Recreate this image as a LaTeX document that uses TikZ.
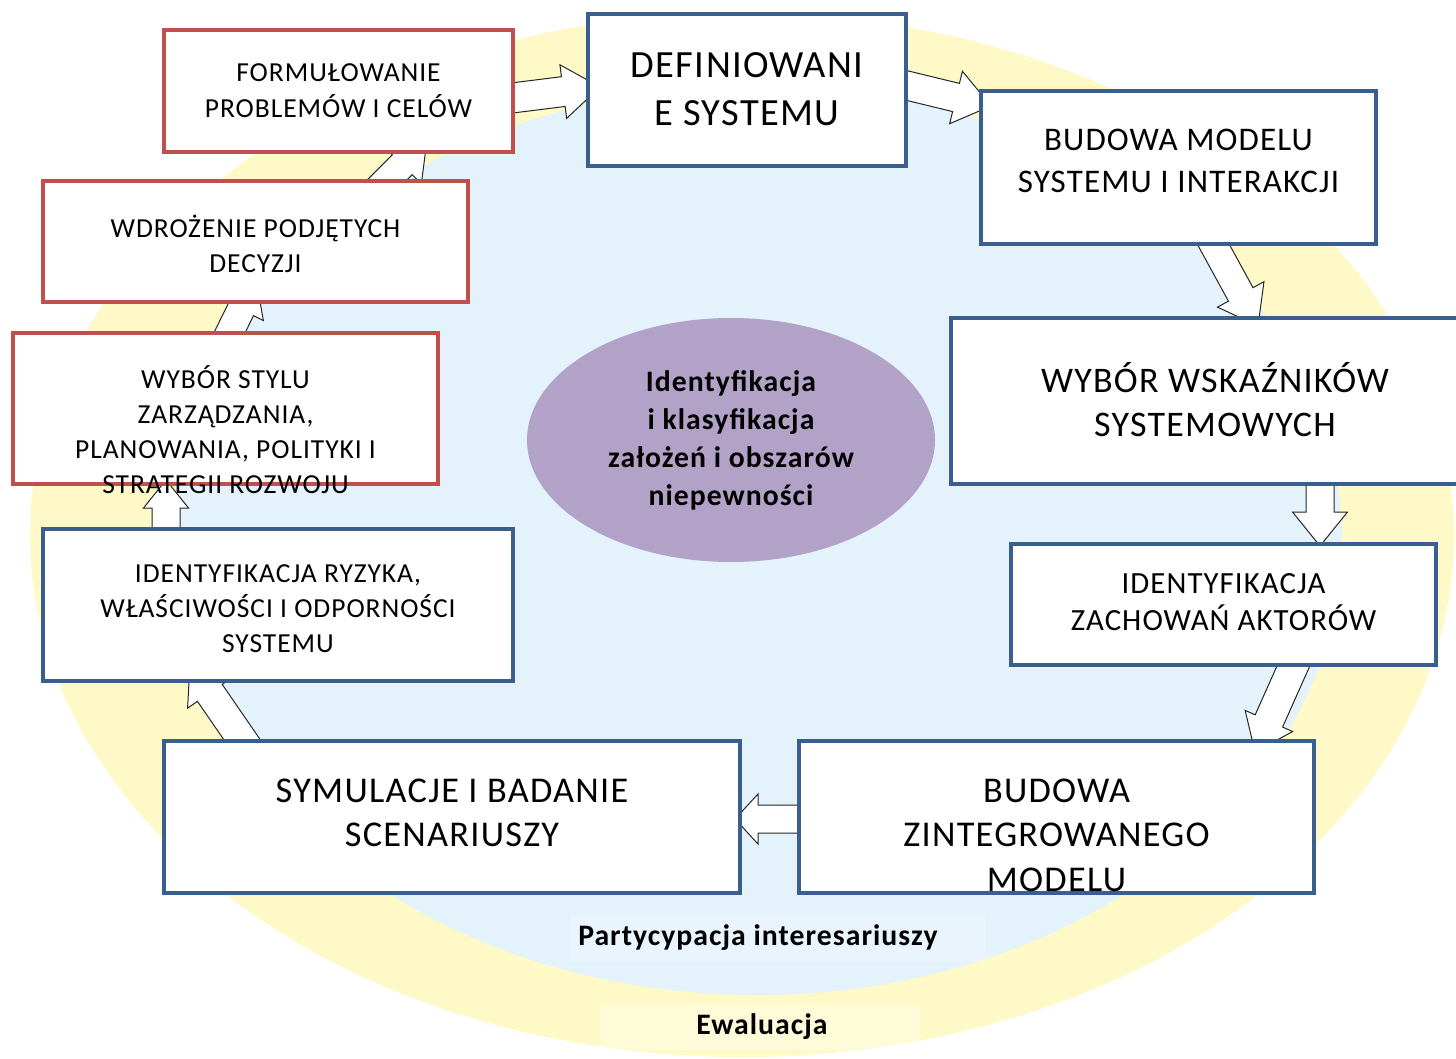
\documentclass[tikz,border=0pt]{standalone}
\usepackage{fontspec}
\setmainfont[LetterSpace=3.5]{Carlito}
\usetikzlibrary{calc,shapes.geometric}
\pgfdeclarelayer{bg}
\pgfdeclarelayer{flow}
\pgfsetlayers{bg,flow,main}

\definecolor{boxred}{HTML}{C0504D}
\definecolor{boxblue}{HTML}{3A5F8E}
\definecolor{outerfill}{HTML}{FEF9C6}
\definecolor{innerfill}{HTML}{E4F2FC}
\definecolor{corefill}{HTML}{B3A2C7}

\tikzset{
  redbox/.style={draw=boxred, line width=4pt, fill=white, inner sep=0pt},
  bluebox/.style={draw=boxblue, line width=4.5pt, fill=white, inner sep=0pt},
  caption/.style={align=center, inner sep=0pt, text=black},
  flowline/.style={draw=black!85, line width=1pt, fill=white, line join=miter},
}

% hollow block arrow: tail, tip, shaft half width, head half width, head length
\newcommand\flow[5]{%
  \coordinate (#1-#2-base) at ($(#2)!#5!(#1)$);
  \path[flowline] ($(#1)!#3!90:(#2)$) -- ($(#1-#2-base)!#3!90:(#2)$)
    -- ($(#1-#2-base)!#4!90:(#2)$) -- (#2)
    -- ($(#1-#2-base)!#4!-90:(#2)$) -- ($(#1-#2-base)!#3!-90:(#2)$)
    -- ($(#1)!#3!-90:(#2)$) -- cycle;
}

\begin{document}
\begin{tikzpicture}[x=1pt, y=-1pt]
\useasboundingbox (0,0) rectangle (1456,1059);

\begin{pgfonlayer}{bg}
  \fill[white] (0,0) rectangle (1456,1059);
  \fill[outerfill] (742,535) ellipse [x radius=712, y radius=522];
  \fill[innerfill] (757,540) ellipse [x radius=585, y radius=455];
  \fill[white, fill opacity=0.2] (570,915) rectangle (985,962);
  \fill[white, fill opacity=0.35] (600,1005) rectangle (920,1050);
\end{pgfonlayer}

% boxes of the cycle
\node[redbox,  minimum width=349pt, minimum height=122pt] (formul)  at (338.5,91)   {};
\node[bluebox, minimum width=318pt, minimum height=152pt] (defin)   at (747,90)     {};
\node[bluebox, minimum width=395pt, minimum height=153pt] (budmod)  at (1178.5,167.5) {};
\node[bluebox, minimum width=528pt, minimum height=166pt] (wybwsk)  at (1215,401)   {};
\node[bluebox, minimum width=425pt, minimum height=121pt] (identz)  at (1223.5,604.5) {};
\node[bluebox, minimum width=515pt, minimum height=152pt] (budzint) at (1056.5,817) {};
\node[bluebox, minimum width=576pt, minimum height=152pt] (symul)   at (452,817)    {};
\node[bluebox, minimum width=470pt, minimum height=152pt] (identr)  at (278,605)    {};
\node[redbox,  minimum width=425pt, minimum height=151pt] (wybst)   at (225.5,408.5) {};
\node[redbox,  minimum width=425pt, minimum height=121pt] (wdroz)   at (255.5,241.5) {};

% box captions
\node[caption, font=\fontsize{27.5}{36}\selectfont] (formul-t) at (338.5,91)
  {FORMUŁOWANIE\\PROBLEMÓW I CELÓW};
\node[caption, font=\fontsize{38.5}{48}\selectfont] (defin-t) at (747,89)
  {DEFINIOWANI\\E SYSTEMU};
\node[caption, font=\fontsize{33}{42}\selectfont] (budmod-t) at (1178.5,161)
  {BUDOWA MODELU\\SYSTEMU I INTERAKCJI};
\node[caption, font=\fontsize{36}{44}\selectfont] (wybwsk-t) at (1215,400)
  {WYBÓR WSKAŹNIKÓW\\SYSTEMOWYCH};
\node[caption, font=\fontsize{30.8}{37}\selectfont] (identz-t) at (1223.5,602.5)
  {IDENTYFIKACJA\\ZACHOWAŃ AKTORÓW};
\node[caption, font=\fontsize{36.3}{44.5}\selectfont] (budzint-t) at (1056.5,835)
  {BUDOWA\\ZINTEGROWANEGO\\MODELU};
\node[caption, font=\fontsize{36.3}{44}\selectfont] (symul-t) at (452,813)
  {SYMULACJE I BADANIE\\SCENARIUSZY};
\node[caption, font=\fontsize{27.5}{35}\selectfont] (identr-t) at (278,609)
  {IDENTYFIKACJA RYZYKA,\\WŁAŚCIWOŚCI I ODPORNOŚCI\\SYSTEMU};
\node[caption, font=\fontsize{27.5}{35}\selectfont] (wybst-t) at (225.5,430)
  {WYBÓR STYLU\\ZARZĄDZANIA,\\PLANOWANIA, POLITYKI I\\STRATEGII ROZWOJU};
\node[caption, font=\fontsize{27.5}{35}\selectfont] (wdroz-t) at (255.5,243.5)
  {WDROŻENIE PODJĘTYCH\\DECYZJI};

% central ellipse
\node[ellipse, fill=corefill, minimum width=408pt, minimum height=244pt, inner sep=0pt,
      align=center, font=\bfseries\fontsize{29.7}{38}\selectfont] (core) at (731,440)
  {Identyfikacja\\i klasyfikacja\\założeń i obszarów\\niepewności};

% labels of the two outer rings
\node[caption, font=\bfseries\fontsize{29.7}{32}\selectfont] (part) at (758,938)
  {Partycypacja interesariuszy};
\node[caption, font=\bfseries\fontsize{29.7}{32}\selectfont] (ewal) at (762,1027)
  {Ewaluacja};

% arrow end points
\coordinate (a0) at (480,102);  \coordinate (a1) at (600,87);
\coordinate (b0) at (880,79);   \coordinate (b1) at (991,106);
\coordinate (c0) at (1200,220); \coordinate (c1) at (1258,326);
\coordinate (d0) at (1320,470); \coordinate (d1) at (1320,546);
\coordinate (e0) at (1305,640); \coordinate (e1) at (1255,752);
\coordinate (f0) at (820,819);  \coordinate (f1) at (735,819);
\coordinate (g0) at (256,760);  \coordinate (g1) at (190,664);
\coordinate (h0) at (166,550);  \coordinate (h1) at (166,480);
\coordinate (i0) at (220,352);  \coordinate (i1) at (256,279);
\coordinate (j0) at (374,193);  \coordinate (j1) at (427,140);

\begin{pgfonlayer}{flow}
  \flow{a0}{a1}{15pt}{27pt}{37pt}
  \flow{b0}{b1}{14.5pt}{27pt}{36pt}
  \flow{c0}{c1}{14pt}{26.5pt}{36pt}
  \flow{d0}{d1}{14pt}{27.5pt}{34pt}
  \flow{e0}{e1}{15pt}{26pt}{34pt}
  \flow{f0}{f1}{14pt}{25pt}{23pt}
  \flow{g0}{g1}{15pt}{27pt}{35pt}
  \flow{h0}{h1}{14pt}{22.5pt}{28pt}
  \flow{i0}{i1}{14pt}{25pt}{34pt}
  \flow{j0}{j1}{14pt}{27pt}{35pt}
\end{pgfonlayer}
\end{tikzpicture}
\end{document}
